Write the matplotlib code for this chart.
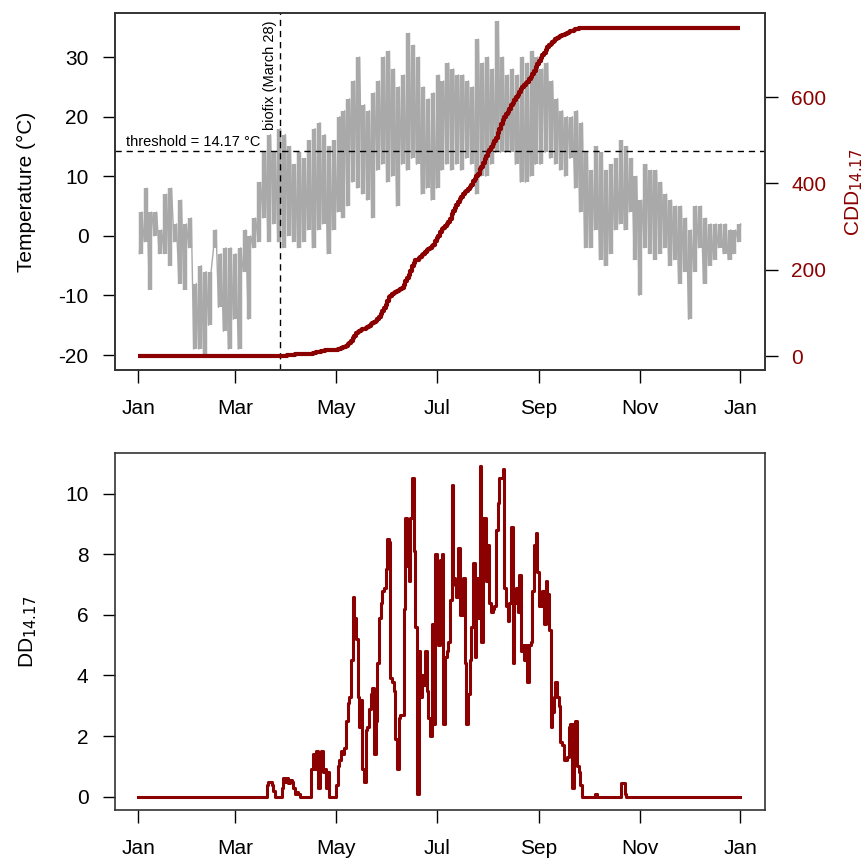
import numpy as np
import pandas as pd
import matplotlib
matplotlib.use("Agg")
from matplotlib import pyplot as plt

plt.rcParams['font.family'] = ['Liberation Sans', 'DejaVu Sans']
plt.rcParams['axes.unicode_minus'] = False

# --- data ---
year_start = "2015-01-01"
tick_dates = ["2015-01-01", "2015-03-01", "2015-05-01", "2015-07-01",
              "2015-09-01", "2015-11-01", "2016-01-01"]
tick_labels = ["Jan", "Mar", "May", "Jul", "Sep", "Nov", "Jan"]

threshold = 14.17
biofix_date = "2015-03-28"

# temperature envelope, one (min, max) pair per 3-day block
block_days = 3
t_min = [-3, -1, -9, 0, -3, -3, -5, -1, -8, -9, -2, -19, -19, -20, -15, -2,
         -12, -16, -19, -14, -19, -6, -14, -2, -1, 3, -1, 2, -1, -2, 0, -1,
         -2, -1, 1, -2, 1, 2, -3, 1, 4, 3, 5, 9, 8, 7, 6, 3, 11, 12, 9, 10,
         5, 12, 11, 13, 12, 7, 8, 6, 8, 11, 12, 11, 12, 11, 13, 12, 7, 10,
         10, 12, 14, 14, 14, 14, 12, 9, 9, 10, 12, 12, 14, 13, 12, 11, 10,
         13, 8, 4, -2, -2, 1, -4, -5, -3, 1, 2, 1, 4, -4, -10, -2, -3, -4,
         -3, -2, -5, -4, -8, -6, -14, -6, -2, -8, -5, -4, -2, -3, -4, -3, -1]
t_max = [4, 8, 4, 4, 1, 7, 8, 2, 6, 2, 3, -8, -5, -6, -6, 1, -3, -2, -2, -3,
         -2, 1, 0, 3, 9, 14, 17, 14, 18, 17, 15, 12, 14, 13, 16, 18, 19, 17,
         15, 16, 20, 21, 23, 26, 30, 22, 21, 24, 26, 30, 31, 28, 25, 27, 34,
         32, 30, 25, 23, 24, 27, 26, 29, 28, 27, 27, 26, 25, 33, 29, 30, 28,
         36, 30, 27, 28, 27, 30, 29, 31, 30, 28, 29, 26, 23, 21, 20, 20, 21,
         19, 14, 11, 15, 14, 11, 12, 13, 16, 15, 13, 10, 6, 12, 11, 11, 9, 7,
         6, 5, 5, 3, 1, 5, 5, 3, 2, 2, 2, 2, 1, 1, 2]

# daily degree-days, non-zero part of the season starts at dd_first_day
n_days = 365
dd_first_day = 75
dd_season = [0, 0, 0, 0.4, 0.5, 0.5, 0.4, 0.2, 0, 0, 0, 0, 0.3, 0.6, 0.5, 0.6,
             0.45, 0.55, 0.5, 0.3, 0.1, 0.15, 0.1, 0, 0, 0, 0, 0, 0, 0, 0.9,
             1.4, 0.9, 1.5, 0.3, 1.2, 1.5, 0.8, 0.9, 0.3, 0.8, 0, 0, 0, 0, 0.4,
             1.0, 1.2, 1.5, 1.4, 1.6, 2.5, 3.1, 3.3, 4.5, 6.6, 5.9, 5.2, 3.3,
             2.3, 3.2, 0.9, 0.5, 2.2, 2.3, 2.9, 3.4, 3.6, 1.4, 2.5, 4.4, 5.9,
             6.4, 6.8, 6.9, 7.5, 8.5, 8.4, 3.9, 3.8, 3.5, 1.9, 0.9, 2.6, 2.7,
             2.7, 6.2, 9.2, 7.6, 7.1, 9.2, 10.5, 8.1, 5.6, 0.1, 4.8, 3.3, 4.0,
             3.7, 4.8, 3.5, 2.6, 2.0, 5.7, 2.4, 8.0, 7.5, 5.0, 7.8, 8.0, 2.4,
             4.6, 4.8, 5.1, 6.5, 10.3, 7.2, 7.0, 6.6, 8.2, 6.0, 6.0, 7.2, 4.4,
             2.4, 3.4, 4.5, 5.6, 7.7, 4.6, 7.2, 5.9, 10.9, 5.1, 9.2, 9.2, 7.1,
             8.3, 6.4, 6.1, 6.2, 6.3, 8.8, 9.7, 10.5, 10.5, 10.8, 6.9, 6.3,
             5.8, 6.4, 8.9, 4.4, 6.4, 6.9, 6.1, 7.3, 4.8, 5.0, 4.5, 5.0, 3.8,
             5.0, 5.1, 6.8, 8.3, 8.7, 7.4, 6.3, 6.3, 6.8, 5.7, 7.1, 6.7, 5.5,
             2.3, 2.8, 3.3, 3.8, 3.3, 3.0, 1.8, 1.7, 1.2, 1.2, 1.3, 2.3, 2.4,
             0.3, 2.4, 2.5, 1.0, 0.8, 0.4, 0, 0, 0, 0, 0, 0, 0, 0, 0.1, 0, 0,
             0, 0, 0, 0, 0, 0, 0, 0, 0, 0, 0, 0, 0, 0.45, 0.45, 0.1, 0, 0, 0, 0]

# --- derived series ---
t0 = pd.Timestamp(year_start)
tick_days = [(pd.Timestamp(d) - t0).days for d in tick_dates]
biofix = (pd.Timestamp(biofix_date) - t0).days

tmin = np.array(t_min, dtype=float)
tmax = np.array(t_max, dtype=float)
blk = np.arange(len(tmin)) * block_days
temp_x = np.column_stack([blk + 0.25 * block_days, blk + 0.75 * block_days]).ravel()
temp_y = np.column_stack([tmin, tmax]).ravel()

dd = np.zeros(n_days)
dd[dd_first_day:dd_first_day + len(dd_season)] = dd_season
cdd = np.where(np.arange(n_days) >= biofix, dd, 0).cumsum()

days = np.arange(n_days + 1)
dd_s = np.append(dd, dd[-1])
cdd_s = np.append(cdd, cdd[-1])

grey = "#a9a9a9"
red = "#8b0000"
spine_col = "#333333"
fs = 15

fig = plt.figure(figsize=(8.68, 8.63), dpi=100)
ax1 = fig.add_axes([0.1325, 0.5713, 0.7488, 0.4137])
ax2 = fig.add_axes([0.1325, 0.0614, 0.7488, 0.4137])

# top panel: temperature + CDD
ax1.vlines(blk + 0.5 * block_days, tmin, tmax, color=grey, lw=3.2)
ax1.plot(temp_x, temp_y, color=grey, lw=1.0)
ax1.axhline(threshold, color="black", lw=1, ls=(0, (4.5, 3.5)))
ax1.axvline(biofix, color="black", lw=1, ls=(0, (4.5, 3.5)))
ax1.text(-7.5, threshold + 0.4, "threshold = %.2f \u00b0C" % threshold,
         fontsize=10.5, ha="left", va="bottom")
ax1.text(biofix - 1.5, 36.2, "biofix (March 28)", rotation=90,
         fontsize=10.5, ha="right", va="top")
ax1.set_xlim(-14, 380)
ax1.set_ylim(-22.5, 37.4)
ax1.set_yticks([-20, -10, 0, 10, 20, 30])
ax1.set_ylabel("Temperature (\u00b0C)", fontsize=fs, labelpad=16)

ax1r = ax1.twinx()
ax1r.plot(days, cdd_s, color=red, lw=3, drawstyle="steps-post",
          solid_capstyle="butt")
ax1r.set_ylim(-32, 795)
ax1r.set_yticks([0, 200, 400, 600])
ax1r.set_ylabel("CDD$_{14.17}$", color=red, fontsize=fs, labelpad=12)
ax1r.tick_params(axis="y", colors="black", labelcolor=red, length=9,
                 width=1, pad=10, labelsize=fs)

# bottom panel: daily DD
ax2.plot(days, dd_s, color=red, lw=2.2, drawstyle="steps-post")
ax2.set_xlim(-14, 380)
ax2.set_ylim(-0.44, 11.34)
ax2.set_yticks([0, 2, 4, 6, 8, 10])
ax2.set_ylabel("DD$_{14.17}$", fontsize=fs, labelpad=19)

for ax in (ax1, ax2):
    ax.set_xticks(tick_days)
    ax.set_xticklabels(tick_labels)
    ax.tick_params(axis="x", length=9, width=1, pad=12, labelsize=fs)
    ax.tick_params(axis="y", length=9, width=1, pad=10, labelsize=fs)
for ax in (ax1, ax1r, ax2):
    for s in ax.spines.values():
        s.set_color(spine_col)
        s.set_linewidth(1.2)

fig.savefig("out.png", dpi=100)
